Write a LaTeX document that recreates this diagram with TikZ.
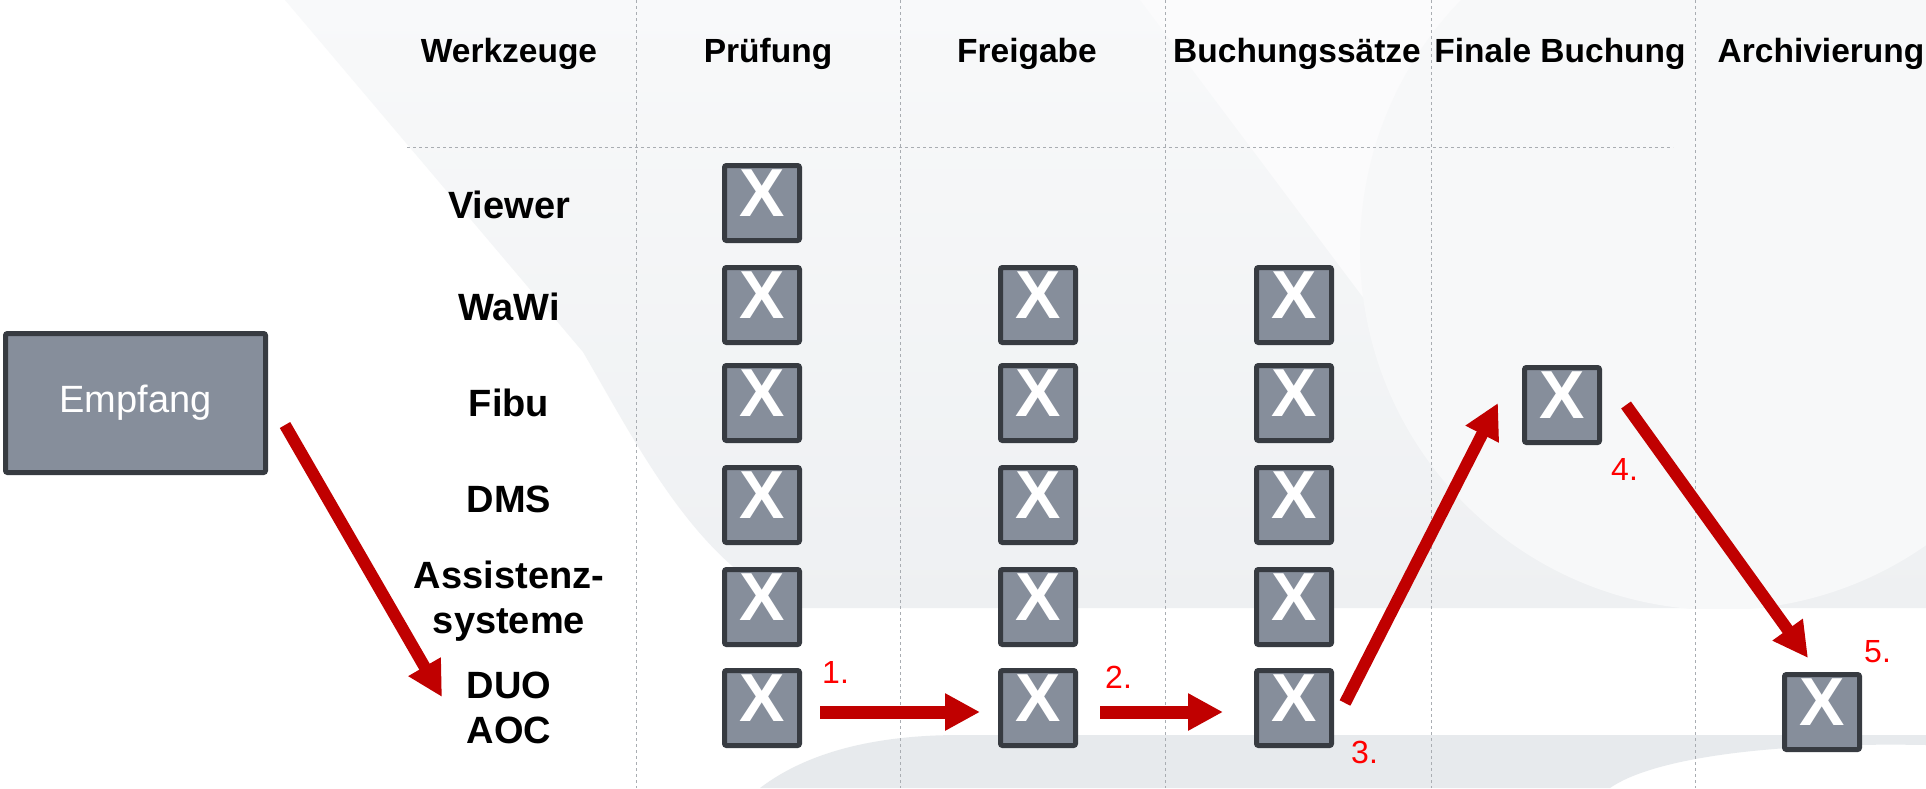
\documentclass[tikz,border=0pt]{standalone}
\usepackage{fontspec}
\setmainfont{Liberation Sans}
\usetikzlibrary{arrows.meta}
\definecolor{boxfill}{HTML}{868E9B}
\definecolor{boxline}{HTML}{373B41}
\definecolor{arrowred}{HTML}{C00000}
\definecolor{numred}{HTML}{FF0000}
\definecolor{gridgray}{HTML}{A9ADB2}
\definecolor{bgTop}{HTML}{F8F9FA}
\definecolor{bgBot}{HTML}{EEF0F2}
\definecolor{bgB}{HTML}{FBFBFC}
\definecolor{bgC}{HTML}{F7F8F9}
\definecolor{bgBand}{HTML}{E7EAED}
\tikzset{
 xbox/.style={rectangle, fill=boxfill, draw=boxline, line width=5pt, minimum width=75pt, minimum height=75pt, inner sep=0pt, rounded corners=2pt, text=white, font=\bfseries\fontsize{68}{68}\selectfont, text depth=20pt},
 bigbox/.style={rectangle, fill=boxfill, draw=boxline, line width=5pt, minimum width=260pt, minimum height=139pt, inner sep=0pt, rounded corners=2pt, text=white, font=\fontsize{38}{44}\selectfont},
 head/.style={font=\bfseries\fontsize{33.5}{40}\selectfont, anchor=base, inner sep=0pt},
 rowlab/.style={font=\bfseries\fontsize{38}{45}\selectfont, align=center, inner sep=0pt},
 num/.style={text=numred, font=\fontsize{32}{36}\selectfont, anchor=base west, inner sep=0pt},
 redarrow/.style={draw=arrowred, line width=12pt, -{Triangle[length=35pt,width=35pt]}},
 gridline/.style={draw=gridgray, line width=1pt, dash pattern=on 3pt off 3pt},
}
\begin{document}
\begin{tikzpicture}[x=1pt,y=-1pt]
\useasboundingbox (0,0) rectangle (1926,788);
% background
\fill[white] (0,0) rectangle (1926,788);
\shade[top color=bgTop, bottom color=bgBot] (285,0) -- (1926,0) -- (1926,608) -- (800,608) .. controls (700,570) and (640,450) .. (583,352) -- cycle;
\begin{scope}
\clip (0,0) rectangle (1926,608);
\fill[bgB] (1140,0) -- (1620,0) -- (1470,440) -- cycle;
\fill[bgC] (1720,250) circle (360);
\end{scope}
\fill[bgBand] (760,788) .. controls (810,750) and (880,735) .. (960,735) -- (1926,735) -- (1926,745) .. controls (1760,742) and (1650,760) .. (1610,788) -- cycle;
% grid lines
\foreach \gx in {636,900,1165,1431,1695} \draw[gridline] (\gx,0) -- (\gx,788);
\draw[gridline] (407,147) -- (1673,147);
% headers
\node[head] (hw) at (509,62) {Werkzeuge};
\node[head] (hp) at (768,62) {Prüfung};
\node[head] (hf) at (1027,62) {Freigabe};
\node[head] (hb) at (1297,62) {Buchungssätze};
\node[head] (hfb) at (1560,62) {Finale Buchung};
\node[head] (ha) at (1821,62) {Archivierung};
% row labels
\node[rowlab, anchor=base] (lv) at (509,218) {Viewer};
\node[rowlab, anchor=base] (lw) at (509,320) {WaWi};
\node[rowlab, anchor=base] (lf) at (509,416) {Fibu};
\node[rowlab, anchor=base] (ld) at (509,512) {DMS};
\node[rowlab] (la) at (509,601) {Assistenz-\\systeme};
\node[rowlab] (lduo) at (509,708) {DUO\\AOC};
% Empfang
\node[bigbox] (emp) at (135.5,403) {Empfang};
% boxes
\node[xbox] (p1) at (762,203) {X};
\node[xbox] (p2) at (762,305) {X};
\node[xbox] (p3) at (762,403) {X};
\node[xbox] (p4) at (762,505) {X};
\node[xbox] (p5) at (762,607) {X};
\node[xbox] (p6) at (762,708) {X};
\node[xbox] (f2) at (1038,305) {X};
\node[xbox] (f3) at (1038,403) {X};
\node[xbox] (f4) at (1038,505) {X};
\node[xbox] (f5) at (1038,607) {X};
\node[xbox] (f6) at (1038,708) {X};
\node[xbox] (b2) at (1294,305) {X};
\node[xbox] (b3) at (1294,403) {X};
\node[xbox] (b4) at (1294,505) {X};
\node[xbox] (b5) at (1294,607) {X};
\node[xbox] (b6) at (1294,708) {X};
\node[xbox] (fin) at (1562,405) {X};
\node[xbox] (arc) at (1822,712) {X};
% arrows
\coordinate (t1) at (442,697);
\draw[redarrow] ([xshift=17pt,yshift=50pt]emp.south east) -- (t1);
\draw[redarrow, line width=13pt] ([xshift=18pt,yshift=-4pt]p6.east) -- ([xshift=-18pt,yshift=-4pt]f6.west);
\draw[redarrow, line width=13pt] ([xshift=22pt,yshift=-4pt]f6.east) -- ([xshift=-31pt,yshift=-4pt]b6.west);
\draw[redarrow] ([xshift=11pt,yshift=5pt]b6.east) -- ([xshift=-24pt,yshift=2pt]fin.west);
\draw[redarrow] ([xshift=24pt]fin.east) -- ([xshift=-14pt,yshift=14pt]arc.north);
% step numbers
\node[num] (n1) at (822,683) {1.};
\node[num] (n2) at (1105,688) {2.};
\node[num] (n3) at (1351,763) {3.};
\node[num] (n4) at (1611,480) {4.};
\node[num] (n5) at (1864,662) {5.};
\end{tikzpicture}
\end{document}
